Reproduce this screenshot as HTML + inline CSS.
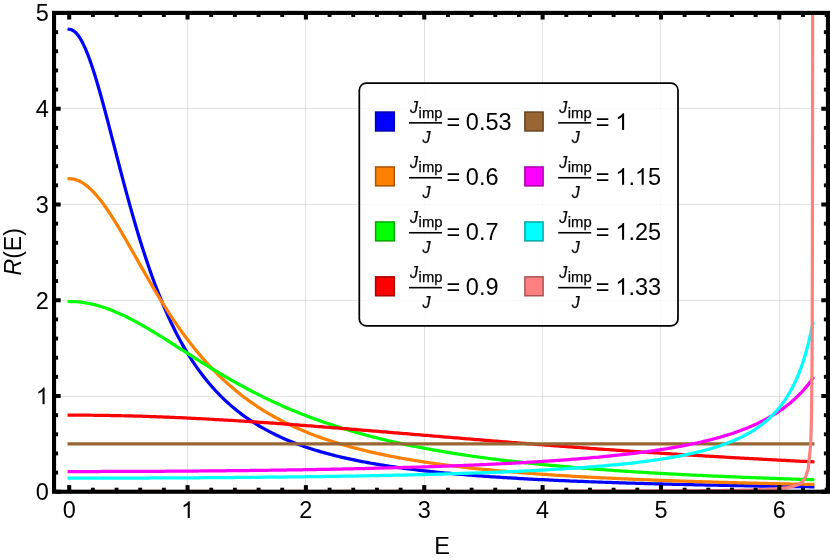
<!DOCTYPE html>
<html><head><meta charset="utf-8"><title>R(E)</title><style>html,body{margin:0;padding:0;background:#fff;}body{width:830px;height:560px;overflow:hidden;position:relative;font-family:"Liberation Sans",sans-serif;}</style></head><body>
<svg width="830" height="560" viewBox="0 0 830 560" style="position:absolute;left:0;top:0;will-change:transform">
<rect width="830" height="560" fill="#fff"/>
<g stroke="#000" stroke-opacity="0.11" stroke-width="1"><line x1="187.5" y1="12.90" x2="187.5" y2="491.75"/><line x1="305.5" y1="12.90" x2="305.5" y2="491.75"/><line x1="424.5" y1="12.90" x2="424.5" y2="491.75"/><line x1="542.5" y1="12.90" x2="542.5" y2="491.75"/><line x1="660.5" y1="12.90" x2="660.5" y2="491.75"/><line x1="779.5" y1="12.90" x2="779.5" y2="491.75"/><line x1="54.04" y1="396.5" x2="827.95" y2="396.5"/><line x1="54.04" y1="300.5" x2="827.95" y2="300.5"/><line x1="54.04" y1="204.5" x2="827.95" y2="204.5"/><line x1="54.04" y1="108.5" x2="827.95" y2="108.5"/></g>
<defs><clipPath id="cp"><rect x="54.04" y="12.90" width="777.91" height="478.85"/></clipPath></defs>
<g clip-path="url(#cp)" fill="none" stroke-width="3.25" stroke-linecap="square" stroke-linejoin="round">
<path d="M69.20 29.29 L71.52 29.70 L73.85 30.95 L76.17 33.01 L78.50 35.86 L80.82 39.48 L83.14 43.83 L85.47 48.85 L87.79 54.51 L90.11 60.76 L92.44 67.53 L94.76 74.77 L97.09 82.42 L99.41 90.43 L101.73 98.73 L104.06 107.27 L106.38 116.00 L108.70 124.87 L111.03 133.83 L113.35 142.84 L115.68 151.85 L118.00 160.84 L120.32 169.77 L122.65 178.62 L124.97 187.35 L127.29 195.95 L129.62 204.40 L131.94 212.68 L134.27 220.79 L136.59 228.71 L138.91 236.43 L141.24 243.96 L143.56 251.27 L145.89 258.38 L148.21 265.29 L150.53 271.98 L152.86 278.47 L155.18 284.75 L157.50 290.83 L159.83 296.71 L162.15 302.40 L164.48 307.90 L166.80 313.21 L169.12 318.34 L171.45 323.29 L173.77 328.08 L176.09 332.69 L178.42 337.15 L180.74 341.45 L183.07 345.61 L185.39 349.62 L187.71 353.48 L190.04 357.22 L192.36 360.82 L194.69 364.30 L197.01 367.66 L199.33 370.91 L201.66 374.04 L203.98 377.07 L206.30 379.99 L208.63 382.82 L210.95 385.54 L213.28 388.18 L215.60 390.73 L217.92 393.20 L220.25 395.58 L222.57 397.88 L224.89 400.11 L227.22 402.27 L229.54 404.36 L231.87 406.38 L234.19 408.34 L236.51 410.23 L238.84 412.07 L241.16 413.85 L243.48 415.57 L245.81 417.24 L248.13 418.86 L250.46 420.43 L252.78 421.96 L255.10 423.43 L257.43 424.87 L259.75 426.26 L262.08 427.61 L264.40 428.92 L266.72 430.20 L269.05 431.43 L271.37 432.64 L273.69 433.80 L276.02 434.94 L278.34 436.04 L280.67 437.12 L282.99 438.16 L285.31 439.18 L287.64 440.17 L289.96 441.13 L292.28 442.07 L294.61 442.98 L296.93 443.87 L299.26 444.73 L301.58 445.57 L303.90 446.39 L306.23 447.19 L308.55 447.97 L310.87 448.73 L313.20 449.47 L315.52 450.20 L317.85 450.90 L320.17 451.59 L322.49 452.26 L324.82 452.91 L327.14 453.55 L329.47 454.18 L331.79 454.79 L334.11 455.38 L336.44 455.96 L338.76 456.53 L341.08 457.08 L343.41 457.63 L345.73 458.16 L348.06 458.67 L350.38 459.18 L352.70 459.67 L355.03 460.16 L357.35 460.63 L359.67 461.09 L362.00 461.55 L364.32 461.99 L366.65 462.42 L368.97 462.85 L371.29 463.26 L373.62 463.67 L375.94 464.07 L378.26 464.46 L380.59 464.84 L382.91 465.22 L385.24 465.58 L387.56 465.94 L389.88 466.29 L392.21 466.64 L394.53 466.98 L396.86 467.31 L399.18 467.64 L401.50 467.95 L403.83 468.27 L406.15 468.57 L408.47 468.87 L410.80 469.17 L413.12 469.46 L415.45 469.74 L417.77 470.02 L420.09 470.29 L422.42 470.56 L424.74 470.83 L427.06 471.09 L429.39 471.34 L431.71 471.59 L434.04 471.83 L436.36 472.07 L438.68 472.31 L441.01 472.54 L443.33 472.77 L445.66 473.00 L447.98 473.22 L450.30 473.43 L452.63 473.64 L454.95 473.85 L457.27 474.06 L459.60 474.26 L461.92 474.46 L464.25 474.66 L466.57 474.85 L468.89 475.04 L471.22 475.22 L473.54 475.40 L475.86 475.58 L478.19 475.76 L480.51 475.94 L482.84 476.11 L485.16 476.27 L487.48 476.44 L489.81 476.60 L492.13 476.76 L494.45 476.92 L496.78 477.08 L499.10 477.23 L501.43 477.38 L503.75 477.53 L506.07 477.68 L508.40 477.82 L510.72 477.96 L513.05 478.10 L515.37 478.24 L517.69 478.38 L520.02 478.51 L522.34 478.64 L524.66 478.77 L526.99 478.90 L529.31 479.02 L531.64 479.15 L533.96 479.27 L536.28 479.39 L538.61 479.51 L540.93 479.63 L543.25 479.74 L545.58 479.86 L547.90 479.97 L550.23 480.08 L552.55 480.19 L554.87 480.30 L557.20 480.40 L559.52 480.51 L561.84 480.61 L564.17 480.71 L566.49 480.81 L568.82 480.91 L571.14 481.01 L573.46 481.11 L575.79 481.20 L578.11 481.30 L580.44 481.39 L582.76 481.48 L585.08 481.57 L587.41 481.66 L589.73 481.75 L592.05 481.83 L594.38 481.92 L596.70 482.00 L599.03 482.09 L601.35 482.17 L603.67 482.25 L606.00 482.33 L608.32 482.41 L610.64 482.49 L612.97 482.57 L615.29 482.64 L617.62 482.72 L619.94 482.79 L622.26 482.87 L624.59 482.94 L626.91 483.01 L629.24 483.08 L631.56 483.15 L633.88 483.22 L636.21 483.29 L638.53 483.36 L640.85 483.43 L643.18 483.49 L645.50 483.56 L647.83 483.62 L650.15 483.69 L652.47 483.75 L654.80 483.81 L657.12 483.87 L659.44 483.93 L661.77 483.99 L664.09 484.05 L666.42 484.11 L668.74 484.17 L671.06 484.23 L673.39 484.28 L675.71 484.34 L678.03 484.40 L680.36 484.45 L682.68 484.50 L685.01 484.56 L687.33 484.61 L689.65 484.66 L691.98 484.72 L694.30 484.77 L696.63 484.82 L698.95 484.87 L701.27 484.92 L703.60 484.97 L705.92 485.02 L708.24 485.06 L710.57 485.11 L712.89 485.16 L715.22 485.21 L717.54 485.25 L719.86 485.30 L722.19 485.34 L724.51 485.39 L726.83 485.43 L729.16 485.48 L731.48 485.52 L733.81 485.56 L736.13 485.60 L738.45 485.65 L740.78 485.69 L743.10 485.73 L745.42 485.77 L747.75 485.81 L750.07 485.85 L752.40 485.89 L754.72 485.93 L757.04 485.97 L759.37 486.01 L761.69 486.04 L764.02 486.08 L766.34 486.12 L768.66 486.16 L770.99 486.19 L773.31 486.23 L775.63 486.26 L777.96 486.30 L780.28 486.34 L782.61 486.37 L784.93 486.40 L787.25 486.44 L789.58 486.47 L791.90 486.51 L794.22 486.54 L796.55 486.57 L798.87 486.60 L801.20 486.64 L803.52 486.67 L805.84 486.70 L808.17 486.73 L810.49 486.76 L812.81 486.79" stroke="#0000ff"/>
<path d="M69.20 178.67 L71.52 178.80 L73.85 179.18 L76.17 179.82 L78.50 180.70 L80.82 181.83 L83.14 183.20 L85.47 184.81 L87.79 186.64 L90.11 188.69 L92.44 190.94 L94.76 193.40 L97.09 196.04 L99.41 198.86 L101.73 201.85 L104.06 204.99 L106.38 208.27 L108.70 211.69 L111.03 215.22 L113.35 218.85 L115.68 222.59 L118.00 226.40 L120.32 230.29 L122.65 234.23 L124.97 238.23 L127.29 242.27 L129.62 246.34 L131.94 250.43 L134.27 254.53 L136.59 258.63 L138.91 262.74 L141.24 266.83 L143.56 270.91 L145.89 274.96 L148.21 278.99 L150.53 282.98 L152.86 286.94 L155.18 290.85 L157.50 294.72 L159.83 298.53 L162.15 302.30 L164.48 306.01 L166.80 309.67 L169.12 313.27 L171.45 316.81 L173.77 320.29 L176.09 323.70 L178.42 327.06 L180.74 330.35 L183.07 333.57 L185.39 336.73 L187.71 339.83 L190.04 342.87 L192.36 345.84 L194.69 348.75 L197.01 351.59 L199.33 354.38 L201.66 357.10 L203.98 359.76 L206.30 362.37 L208.63 364.91 L210.95 367.40 L213.28 369.83 L215.60 372.20 L217.92 374.52 L220.25 376.78 L222.57 379.00 L224.89 381.16 L227.22 383.27 L229.54 385.33 L231.87 387.34 L234.19 389.30 L236.51 391.22 L238.84 393.10 L241.16 394.92 L243.48 396.71 L245.81 398.46 L248.13 400.16 L250.46 401.82 L252.78 403.45 L255.10 405.03 L257.43 406.58 L259.75 408.09 L262.08 409.57 L264.40 411.01 L266.72 412.42 L269.05 413.80 L271.37 415.15 L273.69 416.46 L276.02 417.75 L278.34 419.00 L280.67 420.23 L282.99 421.43 L285.31 422.60 L287.64 423.75 L289.96 424.87 L292.28 425.96 L294.61 427.03 L296.93 428.08 L299.26 429.10 L301.58 430.10 L303.90 431.08 L306.23 432.04 L308.55 432.98 L310.87 433.89 L313.20 434.79 L315.52 435.67 L317.85 436.53 L320.17 437.37 L322.49 438.19 L324.82 439.00 L327.14 439.79 L329.47 440.56 L331.79 441.32 L334.11 442.06 L336.44 442.79 L338.76 443.50 L341.08 444.19 L343.41 444.88 L345.73 445.54 L348.06 446.20 L350.38 446.84 L352.70 447.47 L355.03 448.09 L357.35 448.69 L359.67 449.29 L362.00 449.87 L364.32 450.44 L366.65 451.00 L368.97 451.55 L371.29 452.08 L373.62 452.61 L375.94 453.13 L378.26 453.64 L380.59 454.14 L382.91 454.63 L385.24 455.11 L387.56 455.58 L389.88 456.04 L392.21 456.49 L394.53 456.94 L396.86 457.38 L399.18 457.81 L401.50 458.23 L403.83 458.65 L406.15 459.05 L408.47 459.45 L410.80 459.85 L413.12 460.23 L415.45 460.61 L417.77 460.99 L420.09 461.35 L422.42 461.71 L424.74 462.07 L427.06 462.42 L429.39 462.76 L431.71 463.09 L434.04 463.43 L436.36 463.75 L438.68 464.07 L441.01 464.39 L443.33 464.70 L445.66 465.00 L447.98 465.30 L450.30 465.59 L452.63 465.88 L454.95 466.17 L457.27 466.45 L459.60 466.73 L461.92 467.00 L464.25 467.27 L466.57 467.53 L468.89 467.79 L471.22 468.04 L473.54 468.30 L475.86 468.54 L478.19 468.79 L480.51 469.03 L482.84 469.26 L485.16 469.50 L487.48 469.72 L489.81 469.95 L492.13 470.17 L494.45 470.39 L496.78 470.61 L499.10 470.82 L501.43 471.03 L503.75 471.24 L506.07 471.44 L508.40 471.64 L510.72 471.84 L513.05 472.03 L515.37 472.23 L517.69 472.41 L520.02 472.60 L522.34 472.79 L524.66 472.97 L526.99 473.15 L529.31 473.32 L531.64 473.50 L533.96 473.67 L536.28 473.84 L538.61 474.00 L540.93 474.17 L543.25 474.33 L545.58 474.49 L547.90 474.65 L550.23 474.81 L552.55 474.96 L554.87 475.11 L557.20 475.26 L559.52 475.41 L561.84 475.55 L564.17 475.70 L566.49 475.84 L568.82 475.98 L571.14 476.12 L573.46 476.26 L575.79 476.39 L578.11 476.52 L580.44 476.65 L582.76 476.78 L585.08 476.91 L587.41 477.04 L589.73 477.16 L592.05 477.29 L594.38 477.41 L596.70 477.53 L599.03 477.65 L601.35 477.77 L603.67 477.88 L606.00 478.00 L608.32 478.11 L610.64 478.22 L612.97 478.33 L615.29 478.44 L617.62 478.55 L619.94 478.66 L622.26 478.76 L624.59 478.86 L626.91 478.97 L629.24 479.07 L631.56 479.17 L633.88 479.27 L636.21 479.37 L638.53 479.46 L640.85 479.56 L643.18 479.65 L645.50 479.75 L647.83 479.84 L650.15 479.93 L652.47 480.02 L654.80 480.11 L657.12 480.20 L659.44 480.29 L661.77 480.37 L664.09 480.46 L666.42 480.54 L668.74 480.63 L671.06 480.71 L673.39 480.79 L675.71 480.87 L678.03 480.95 L680.36 481.03 L682.68 481.11 L685.01 481.19 L687.33 481.26 L689.65 481.34 L691.98 481.42 L694.30 481.49 L696.63 481.56 L698.95 481.64 L701.27 481.71 L703.60 481.78 L705.92 481.85 L708.24 481.92 L710.57 481.99 L712.89 482.06 L715.22 482.12 L717.54 482.19 L719.86 482.26 L722.19 482.32 L724.51 482.39 L726.83 482.45 L729.16 482.51 L731.48 482.58 L733.81 482.64 L736.13 482.70 L738.45 482.76 L740.78 482.82 L743.10 482.88 L745.42 482.94 L747.75 483.00 L750.07 483.06 L752.40 483.11 L754.72 483.17 L757.04 483.23 L759.37 483.28 L761.69 483.34 L764.02 483.39 L766.34 483.45 L768.66 483.50 L770.99 483.55 L773.31 483.61 L775.63 483.66 L777.96 483.71 L780.28 483.76 L782.61 483.81 L784.93 483.86 L787.25 483.91 L789.58 483.96 L791.90 484.01 L794.22 484.06 L796.55 484.11 L798.87 484.15 L801.20 484.20 L803.52 484.25 L805.84 484.29 L808.17 484.34 L810.49 484.38 L812.81 484.43" stroke="#ff8000"/>
<path d="M69.20 301.50 L71.52 301.53 L73.85 301.61 L76.17 301.75 L78.50 301.94 L80.82 302.19 L83.14 302.49 L85.47 302.84 L87.79 303.25 L90.11 303.70 L92.44 304.21 L94.76 304.77 L97.09 305.38 L99.41 306.04 L101.73 306.74 L104.06 307.49 L106.38 308.29 L108.70 309.13 L111.03 310.01 L113.35 310.93 L115.68 311.89 L118.00 312.90 L120.32 313.93 L122.65 315.01 L124.97 316.12 L127.29 317.26 L129.62 318.43 L131.94 319.63 L134.27 320.86 L136.59 322.11 L138.91 323.39 L141.24 324.69 L143.56 326.02 L145.89 327.36 L148.21 328.72 L150.53 330.11 L152.86 331.50 L155.18 332.91 L157.50 334.34 L159.83 335.77 L162.15 337.22 L164.48 338.67 L166.80 340.14 L169.12 341.60 L171.45 343.08 L173.77 344.56 L176.09 346.04 L178.42 347.52 L180.74 349.01 L183.07 350.49 L185.39 351.98 L187.71 353.46 L190.04 354.94 L192.36 356.42 L194.69 357.89 L197.01 359.35 L199.33 360.81 L201.66 362.27 L203.98 363.72 L206.30 365.16 L208.63 366.59 L210.95 368.01 L213.28 369.42 L215.60 370.83 L217.92 372.22 L220.25 373.61 L222.57 374.98 L224.89 376.34 L227.22 377.69 L229.54 379.03 L231.87 380.35 L234.19 381.66 L236.51 382.96 L238.84 384.25 L241.16 385.53 L243.48 386.79 L245.81 388.03 L248.13 389.27 L250.46 390.49 L252.78 391.70 L255.10 392.89 L257.43 394.07 L259.75 395.24 L262.08 396.39 L264.40 397.53 L266.72 398.66 L269.05 399.77 L271.37 400.87 L273.69 401.95 L276.02 403.02 L278.34 404.08 L280.67 405.12 L282.99 406.15 L285.31 407.17 L287.64 408.17 L289.96 409.16 L292.28 410.14 L294.61 411.11 L296.93 412.06 L299.26 413.00 L301.58 413.92 L303.90 414.84 L306.23 415.74 L308.55 416.63 L310.87 417.50 L313.20 418.37 L315.52 419.22 L317.85 420.06 L320.17 420.89 L322.49 421.71 L324.82 422.51 L327.14 423.31 L329.47 424.09 L331.79 424.87 L334.11 425.63 L336.44 426.38 L338.76 427.12 L341.08 427.85 L343.41 428.57 L345.73 429.28 L348.06 429.98 L350.38 430.67 L352.70 431.35 L355.03 432.02 L357.35 432.69 L359.67 433.34 L362.00 433.98 L364.32 434.61 L366.65 435.24 L368.97 435.86 L371.29 436.46 L373.62 437.06 L375.94 437.65 L378.26 438.24 L380.59 438.81 L382.91 439.38 L385.24 439.94 L387.56 440.49 L389.88 441.03 L392.21 441.56 L394.53 442.09 L396.86 442.61 L399.18 443.13 L401.50 443.63 L403.83 444.13 L406.15 444.62 L408.47 445.11 L410.80 445.59 L413.12 446.06 L415.45 446.53 L417.77 446.99 L420.09 447.44 L422.42 447.89 L424.74 448.33 L427.06 448.76 L429.39 449.19 L431.71 449.62 L434.04 450.03 L436.36 450.45 L438.68 450.85 L441.01 451.25 L443.33 451.65 L445.66 452.04 L447.98 452.42 L450.30 452.81 L452.63 453.18 L454.95 453.55 L457.27 453.92 L459.60 454.28 L461.92 454.63 L464.25 454.98 L466.57 455.33 L468.89 455.67 L471.22 456.01 L473.54 456.34 L475.86 456.67 L478.19 457.00 L480.51 457.32 L482.84 457.63 L485.16 457.95 L487.48 458.26 L489.81 458.56 L492.13 458.86 L494.45 459.16 L496.78 459.45 L499.10 459.74 L501.43 460.03 L503.75 460.31 L506.07 460.59 L508.40 460.86 L510.72 461.14 L513.05 461.41 L515.37 461.67 L517.69 461.93 L520.02 462.19 L522.34 462.45 L524.66 462.70 L526.99 462.95 L529.31 463.20 L531.64 463.44 L533.96 463.68 L536.28 463.92 L538.61 464.15 L540.93 464.39 L543.25 464.62 L545.58 464.84 L547.90 465.07 L550.23 465.29 L552.55 465.51 L554.87 465.72 L557.20 465.94 L559.52 466.15 L561.84 466.36 L564.17 466.56 L566.49 466.77 L568.82 466.97 L571.14 467.17 L573.46 467.37 L575.79 467.56 L578.11 467.75 L580.44 467.94 L582.76 468.13 L585.08 468.32 L587.41 468.50 L589.73 468.68 L592.05 468.86 L594.38 469.04 L596.70 469.22 L599.03 469.39 L601.35 469.56 L603.67 469.73 L606.00 469.90 L608.32 470.07 L610.64 470.23 L612.97 470.40 L615.29 470.56 L617.62 470.72 L619.94 470.87 L622.26 471.03 L624.59 471.18 L626.91 471.34 L629.24 471.49 L631.56 471.64 L633.88 471.79 L636.21 471.93 L638.53 472.08 L640.85 472.22 L643.18 472.36 L645.50 472.50 L647.83 472.64 L650.15 472.78 L652.47 472.91 L654.80 473.05 L657.12 473.18 L659.44 473.31 L661.77 473.44 L664.09 473.57 L666.42 473.70 L668.74 473.83 L671.06 473.95 L673.39 474.08 L675.71 474.20 L678.03 474.32 L680.36 474.44 L682.68 474.56 L685.01 474.68 L687.33 474.79 L689.65 474.91 L691.98 475.02 L694.30 475.14 L696.63 475.25 L698.95 475.36 L701.27 475.47 L703.60 475.58 L705.92 475.69 L708.24 475.79 L710.57 475.90 L712.89 476.01 L715.22 476.11 L717.54 476.21 L719.86 476.31 L722.19 476.41 L724.51 476.51 L726.83 476.61 L729.16 476.71 L731.48 476.81 L733.81 476.90 L736.13 477.00 L738.45 477.09 L740.78 477.19 L743.10 477.28 L745.42 477.37 L747.75 477.46 L750.07 477.55 L752.40 477.64 L754.72 477.73 L757.04 477.82 L759.37 477.91 L761.69 477.99 L764.02 478.08 L766.34 478.16 L768.66 478.24 L770.99 478.33 L773.31 478.41 L775.63 478.49 L777.96 478.57 L780.28 478.65 L782.61 478.73 L784.93 478.81 L787.25 478.89 L789.58 478.97 L791.90 479.04 L794.22 479.12 L796.55 479.19 L798.87 479.27 L801.20 479.34 L803.52 479.42 L805.84 479.49 L808.17 479.56 L810.49 479.63 L812.81 479.70" stroke="#00ff00"/>
<path d="M69.20 415.14 L71.52 415.14 L73.85 415.14 L76.17 415.15 L78.50 415.15 L80.82 415.17 L83.14 415.18 L85.47 415.19 L87.79 415.21 L90.11 415.23 L92.44 415.25 L94.76 415.28 L97.09 415.30 L99.41 415.33 L101.73 415.36 L104.06 415.40 L106.38 415.43 L108.70 415.47 L111.03 415.51 L113.35 415.56 L115.68 415.60 L118.00 415.65 L120.32 415.70 L122.65 415.75 L124.97 415.80 L127.29 415.86 L129.62 415.92 L131.94 415.98 L134.27 416.04 L136.59 416.11 L138.91 416.17 L141.24 416.24 L143.56 416.31 L145.89 416.39 L148.21 416.46 L150.53 416.54 L152.86 416.62 L155.18 416.70 L157.50 416.79 L159.83 416.87 L162.15 416.96 L164.48 417.05 L166.80 417.14 L169.12 417.24 L171.45 417.33 L173.77 417.43 L176.09 417.53 L178.42 417.63 L180.74 417.74 L183.07 417.84 L185.39 417.95 L187.71 418.06 L190.04 418.17 L192.36 418.28 L194.69 418.40 L197.01 418.51 L199.33 418.63 L201.66 418.75 L203.98 418.87 L206.30 419.00 L208.63 419.12 L210.95 419.25 L213.28 419.38 L215.60 419.51 L217.92 419.64 L220.25 419.77 L222.57 419.91 L224.89 420.04 L227.22 420.18 L229.54 420.32 L231.87 420.46 L234.19 420.60 L236.51 420.75 L238.84 420.89 L241.16 421.04 L243.48 421.19 L245.81 421.34 L248.13 421.49 L250.46 421.64 L252.78 421.79 L255.10 421.95 L257.43 422.10 L259.75 422.26 L262.08 422.42 L264.40 422.58 L266.72 422.74 L269.05 422.90 L271.37 423.06 L273.69 423.23 L276.02 423.39 L278.34 423.56 L280.67 423.72 L282.99 423.89 L285.31 424.06 L287.64 424.23 L289.96 424.40 L292.28 424.57 L294.61 424.75 L296.93 424.92 L299.26 425.09 L301.58 425.27 L303.90 425.45 L306.23 425.62 L308.55 425.80 L310.87 425.98 L313.20 426.16 L315.52 426.34 L317.85 426.52 L320.17 426.70 L322.49 426.88 L324.82 427.07 L327.14 427.25 L329.47 427.43 L331.79 427.62 L334.11 427.80 L336.44 427.99 L338.76 428.18 L341.08 428.36 L343.41 428.55 L345.73 428.74 L348.06 428.93 L350.38 429.12 L352.70 429.30 L355.03 429.49 L357.35 429.68 L359.67 429.87 L362.00 430.06 L364.32 430.26 L366.65 430.45 L368.97 430.64 L371.29 430.83 L373.62 431.02 L375.94 431.21 L378.26 431.41 L380.59 431.60 L382.91 431.79 L385.24 431.99 L387.56 432.18 L389.88 432.37 L392.21 432.57 L394.53 432.76 L396.86 432.95 L399.18 433.15 L401.50 433.34 L403.83 433.54 L406.15 433.73 L408.47 433.93 L410.80 434.12 L413.12 434.31 L415.45 434.51 L417.77 434.70 L420.09 434.90 L422.42 435.09 L424.74 435.28 L427.06 435.48 L429.39 435.67 L431.71 435.87 L434.04 436.06 L436.36 436.25 L438.68 436.45 L441.01 436.64 L443.33 436.83 L445.66 437.03 L447.98 437.22 L450.30 437.41 L452.63 437.61 L454.95 437.80 L457.27 437.99 L459.60 438.18 L461.92 438.37 L464.25 438.57 L466.57 438.76 L468.89 438.95 L471.22 439.14 L473.54 439.33 L475.86 439.52 L478.19 439.71 L480.51 439.90 L482.84 440.09 L485.16 440.28 L487.48 440.47 L489.81 440.65 L492.13 440.84 L494.45 441.03 L496.78 441.22 L499.10 441.40 L501.43 441.59 L503.75 441.78 L506.07 441.96 L508.40 442.15 L510.72 442.33 L513.05 442.52 L515.37 442.70 L517.69 442.88 L520.02 443.07 L522.34 443.25 L524.66 443.43 L526.99 443.61 L529.31 443.79 L531.64 443.98 L533.96 444.16 L536.28 444.34 L538.61 444.52 L540.93 444.69 L543.25 444.87 L545.58 445.05 L547.90 445.23 L550.23 445.41 L552.55 445.58 L554.87 445.76 L557.20 445.93 L559.52 446.11 L561.84 446.28 L564.17 446.46 L566.49 446.63 L568.82 446.81 L571.14 446.98 L573.46 447.15 L575.79 447.32 L578.11 447.49 L580.44 447.66 L582.76 447.83 L585.08 448.00 L587.41 448.17 L589.73 448.34 L592.05 448.51 L594.38 448.67 L596.70 448.84 L599.03 449.01 L601.35 449.17 L603.67 449.34 L606.00 449.50 L608.32 449.67 L610.64 449.83 L612.97 449.99 L615.29 450.15 L617.62 450.31 L619.94 450.48 L622.26 450.64 L624.59 450.80 L626.91 450.95 L629.24 451.11 L631.56 451.27 L633.88 451.43 L636.21 451.59 L638.53 451.74 L640.85 451.90 L643.18 452.05 L645.50 452.21 L647.83 452.36 L650.15 452.52 L652.47 452.67 L654.80 452.82 L657.12 452.97 L659.44 453.12 L661.77 453.27 L664.09 453.42 L666.42 453.57 L668.74 453.72 L671.06 453.87 L673.39 454.02 L675.71 454.16 L678.03 454.31 L680.36 454.46 L682.68 454.60 L685.01 454.75 L687.33 454.89 L689.65 455.03 L691.98 455.18 L694.30 455.32 L696.63 455.46 L698.95 455.60 L701.27 455.74 L703.60 455.88 L705.92 456.02 L708.24 456.16 L710.57 456.30 L712.89 456.44 L715.22 456.57 L717.54 456.71 L719.86 456.85 L722.19 456.98 L724.51 457.12 L726.83 457.25 L729.16 457.39 L731.48 457.52 L733.81 457.65 L736.13 457.78 L738.45 457.92 L740.78 458.05 L743.10 458.18 L745.42 458.31 L747.75 458.44 L750.07 458.56 L752.40 458.69 L754.72 458.82 L757.04 458.95 L759.37 459.07 L761.69 459.20 L764.02 459.32 L766.34 459.45 L768.66 459.57 L770.99 459.70 L773.31 459.82 L775.63 459.94 L777.96 460.07 L780.28 460.19 L782.61 460.31 L784.93 460.43 L787.25 460.55 L789.58 460.67 L791.90 460.79 L794.22 460.91 L796.55 461.02 L798.87 461.14 L801.20 461.26 L803.52 461.37 L805.84 461.49 L808.17 461.60 L810.49 461.72 L812.81 461.83" stroke="#ff0000"/>
<path d="M69.20 443.88 L812.81 443.88" stroke="#996633"/>
<path d="M69.20 471.52 L71.52 471.52 L73.85 471.52 L76.17 471.52 L78.50 471.52 L80.82 471.52 L83.14 471.52 L85.47 471.52 L87.79 471.51 L90.11 471.51 L92.44 471.51 L94.76 471.50 L97.09 471.50 L99.41 471.50 L101.73 471.49 L104.06 471.49 L106.38 471.48 L108.70 471.48 L111.03 471.47 L113.35 471.46 L115.68 471.46 L118.00 471.45 L120.32 471.44 L122.65 471.44 L124.97 471.43 L127.29 471.42 L129.62 471.41 L131.94 471.40 L134.27 471.40 L136.59 471.39 L138.91 471.38 L141.24 471.37 L143.56 471.36 L145.89 471.35 L148.21 471.33 L150.53 471.32 L152.86 471.31 L155.18 471.30 L157.50 471.29 L159.83 471.27 L162.15 471.26 L164.48 471.25 L166.80 471.23 L169.12 471.22 L171.45 471.20 L173.77 471.19 L176.09 471.17 L178.42 471.16 L180.74 471.14 L183.07 471.13 L185.39 471.11 L187.71 471.09 L190.04 471.07 L192.36 471.06 L194.69 471.04 L197.01 471.02 L199.33 471.00 L201.66 470.98 L203.98 470.96 L206.30 470.94 L208.63 470.92 L210.95 470.90 L213.28 470.88 L215.60 470.86 L217.92 470.84 L220.25 470.81 L222.57 470.79 L224.89 470.77 L227.22 470.74 L229.54 470.72 L231.87 470.70 L234.19 470.67 L236.51 470.65 L238.84 470.62 L241.16 470.59 L243.48 470.57 L245.81 470.54 L248.13 470.51 L250.46 470.49 L252.78 470.46 L255.10 470.43 L257.43 470.40 L259.75 470.37 L262.08 470.34 L264.40 470.31 L266.72 470.28 L269.05 470.25 L271.37 470.22 L273.69 470.18 L276.02 470.15 L278.34 470.12 L280.67 470.08 L282.99 470.05 L285.31 470.02 L287.64 469.98 L289.96 469.94 L292.28 469.91 L294.61 469.87 L296.93 469.83 L299.26 469.80 L301.58 469.76 L303.90 469.72 L306.23 469.68 L308.55 469.64 L310.87 469.60 L313.20 469.56 L315.52 469.52 L317.85 469.48 L320.17 469.44 L322.49 469.39 L324.82 469.35 L327.14 469.30 L329.47 469.26 L331.79 469.22 L334.11 469.17 L336.44 469.12 L338.76 469.08 L341.08 469.03 L343.41 468.98 L345.73 468.93 L348.06 468.88 L350.38 468.83 L352.70 468.78 L355.03 468.73 L357.35 468.68 L359.67 468.62 L362.00 468.57 L364.32 468.52 L366.65 468.46 L368.97 468.41 L371.29 468.35 L373.62 468.29 L375.94 468.24 L378.26 468.18 L380.59 468.12 L382.91 468.06 L385.24 468.00 L387.56 467.94 L389.88 467.88 L392.21 467.81 L394.53 467.75 L396.86 467.69 L399.18 467.62 L401.50 467.55 L403.83 467.49 L406.15 467.42 L408.47 467.35 L410.80 467.28 L413.12 467.21 L415.45 467.14 L417.77 467.07 L420.09 467.00 L422.42 466.92 L424.74 466.85 L427.06 466.77 L429.39 466.69 L431.71 466.62 L434.04 466.54 L436.36 466.46 L438.68 466.38 L441.01 466.30 L443.33 466.21 L445.66 466.13 L447.98 466.04 L450.30 465.96 L452.63 465.87 L454.95 465.78 L457.27 465.69 L459.60 465.60 L461.92 465.51 L464.25 465.42 L466.57 465.32 L468.89 465.23 L471.22 465.13 L473.54 465.03 L475.86 464.94 L478.19 464.83 L480.51 464.73 L482.84 464.63 L485.16 464.53 L487.48 464.42 L489.81 464.31 L492.13 464.20 L494.45 464.09 L496.78 463.98 L499.10 463.87 L501.43 463.75 L503.75 463.64 L506.07 463.52 L508.40 463.40 L510.72 463.28 L513.05 463.15 L515.37 463.03 L517.69 462.90 L520.02 462.77 L522.34 462.64 L524.66 462.51 L526.99 462.38 L529.31 462.24 L531.64 462.11 L533.96 461.97 L536.28 461.82 L538.61 461.68 L540.93 461.53 L543.25 461.39 L545.58 461.24 L547.90 461.08 L550.23 460.93 L552.55 460.77 L554.87 460.61 L557.20 460.45 L559.52 460.29 L561.84 460.12 L564.17 459.95 L566.49 459.78 L568.82 459.60 L571.14 459.42 L573.46 459.24 L575.79 459.06 L578.11 458.87 L580.44 458.68 L582.76 458.49 L585.08 458.30 L587.41 458.10 L589.73 457.90 L592.05 457.69 L594.38 457.48 L596.70 457.27 L599.03 457.05 L601.35 456.83 L603.67 456.61 L606.00 456.38 L608.32 456.15 L610.64 455.92 L612.97 455.68 L615.29 455.43 L617.62 455.19 L619.94 454.93 L622.26 454.68 L624.59 454.41 L626.91 454.15 L629.24 453.88 L631.56 453.60 L633.88 453.32 L636.21 453.03 L638.53 452.74 L640.85 452.44 L643.18 452.13 L645.50 451.82 L647.83 451.51 L650.15 451.18 L652.47 450.85 L654.80 450.52 L657.12 450.17 L659.44 449.82 L661.77 449.46 L664.09 449.10 L666.42 448.73 L668.74 448.34 L671.06 447.95 L673.39 447.56 L675.71 447.15 L678.03 446.73 L680.36 446.31 L682.68 445.87 L685.01 445.42 L687.33 444.97 L689.65 444.50 L691.98 444.02 L694.30 443.53 L696.63 443.03 L698.95 442.52 L701.27 441.99 L703.60 441.45 L705.92 440.89 L708.24 440.32 L710.57 439.74 L712.89 439.14 L715.22 438.52 L717.54 437.89 L719.86 437.24 L722.19 436.57 L724.51 435.88 L726.83 435.17 L729.16 434.44 L731.48 433.69 L733.81 432.92 L736.13 432.12 L738.45 431.30 L740.78 430.45 L743.10 429.57 L745.42 428.67 L747.75 427.74 L750.07 426.77 L752.40 425.77 L754.72 424.74 L757.04 423.67 L759.37 422.56 L761.69 421.41 L764.02 420.22 L766.34 418.99 L768.66 417.70 L770.99 416.37 L773.31 414.98 L775.63 413.53 L777.96 412.03 L780.28 410.45 L782.61 408.82 L784.93 407.10 L787.25 405.31 L789.58 403.44 L791.90 401.47 L794.22 399.42 L796.55 397.25 L798.87 394.98 L801.20 392.58 L803.52 390.06 L805.84 387.40 L808.17 384.58 L810.49 381.60 L812.81 378.43" stroke="#ff00ff"/>
<path d="M69.20 478.14 L71.52 478.14 L73.85 478.14 L76.17 478.14 L78.50 478.14 L80.82 478.14 L83.14 478.14 L85.47 478.13 L87.79 478.13 L90.11 478.13 L92.44 478.13 L94.76 478.13 L97.09 478.12 L99.41 478.12 L101.73 478.12 L104.06 478.11 L106.38 478.11 L108.70 478.11 L111.03 478.10 L113.35 478.10 L115.68 478.09 L118.00 478.09 L120.32 478.08 L122.65 478.08 L124.97 478.07 L127.29 478.06 L129.62 478.06 L131.94 478.05 L134.27 478.04 L136.59 478.04 L138.91 478.03 L141.24 478.02 L143.56 478.01 L145.89 478.01 L148.21 478.00 L150.53 477.99 L152.86 477.98 L155.18 477.97 L157.50 477.96 L159.83 477.95 L162.15 477.94 L164.48 477.93 L166.80 477.92 L169.12 477.91 L171.45 477.90 L173.77 477.89 L176.09 477.88 L178.42 477.87 L180.74 477.85 L183.07 477.84 L185.39 477.83 L187.71 477.82 L190.04 477.80 L192.36 477.79 L194.69 477.77 L197.01 477.76 L199.33 477.75 L201.66 477.73 L203.98 477.72 L206.30 477.70 L208.63 477.69 L210.95 477.67 L213.28 477.65 L215.60 477.64 L217.92 477.62 L220.25 477.60 L222.57 477.59 L224.89 477.57 L227.22 477.55 L229.54 477.53 L231.87 477.51 L234.19 477.50 L236.51 477.48 L238.84 477.46 L241.16 477.44 L243.48 477.42 L245.81 477.40 L248.13 477.38 L250.46 477.35 L252.78 477.33 L255.10 477.31 L257.43 477.29 L259.75 477.27 L262.08 477.24 L264.40 477.22 L266.72 477.20 L269.05 477.17 L271.37 477.15 L273.69 477.12 L276.02 477.10 L278.34 477.07 L280.67 477.05 L282.99 477.02 L285.31 476.99 L287.64 476.97 L289.96 476.94 L292.28 476.91 L294.61 476.89 L296.93 476.86 L299.26 476.83 L301.58 476.80 L303.90 476.77 L306.23 476.74 L308.55 476.71 L310.87 476.68 L313.20 476.65 L315.52 476.61 L317.85 476.58 L320.17 476.55 L322.49 476.52 L324.82 476.48 L327.14 476.45 L329.47 476.41 L331.79 476.38 L334.11 476.34 L336.44 476.31 L338.76 476.27 L341.08 476.23 L343.41 476.20 L345.73 476.16 L348.06 476.12 L350.38 476.08 L352.70 476.04 L355.03 476.00 L357.35 475.96 L359.67 475.92 L362.00 475.88 L364.32 475.84 L366.65 475.79 L368.97 475.75 L371.29 475.71 L373.62 475.66 L375.94 475.62 L378.26 475.57 L380.59 475.53 L382.91 475.48 L385.24 475.43 L387.56 475.38 L389.88 475.33 L392.21 475.28 L394.53 475.23 L396.86 475.18 L399.18 475.13 L401.50 475.08 L403.83 475.03 L406.15 474.97 L408.47 474.92 L410.80 474.87 L413.12 474.81 L415.45 474.75 L417.77 474.70 L420.09 474.64 L422.42 474.58 L424.74 474.52 L427.06 474.46 L429.39 474.40 L431.71 474.34 L434.04 474.27 L436.36 474.21 L438.68 474.15 L441.01 474.08 L443.33 474.01 L445.66 473.95 L447.98 473.88 L450.30 473.81 L452.63 473.74 L454.95 473.67 L457.27 473.60 L459.60 473.52 L461.92 473.45 L464.25 473.37 L466.57 473.30 L468.89 473.22 L471.22 473.14 L473.54 473.06 L475.86 472.98 L478.19 472.90 L480.51 472.82 L482.84 472.73 L485.16 472.65 L487.48 472.56 L489.81 472.47 L492.13 472.38 L494.45 472.29 L496.78 472.20 L499.10 472.11 L501.43 472.01 L503.75 471.91 L506.07 471.82 L508.40 471.72 L510.72 471.62 L513.05 471.51 L515.37 471.41 L517.69 471.30 L520.02 471.20 L522.34 471.09 L524.66 470.98 L526.99 470.86 L529.31 470.75 L531.64 470.63 L533.96 470.52 L536.28 470.40 L538.61 470.27 L540.93 470.15 L543.25 470.02 L545.58 469.90 L547.90 469.77 L550.23 469.63 L552.55 469.50 L554.87 469.36 L557.20 469.22 L559.52 469.08 L561.84 468.94 L564.17 468.79 L566.49 468.64 L568.82 468.49 L571.14 468.33 L573.46 468.18 L575.79 468.02 L578.11 467.85 L580.44 467.69 L582.76 467.52 L585.08 467.34 L587.41 467.17 L589.73 466.99 L592.05 466.80 L594.38 466.62 L596.70 466.43 L599.03 466.23 L601.35 466.04 L603.67 465.83 L606.00 465.63 L608.32 465.42 L610.64 465.20 L612.97 464.99 L615.29 464.76 L617.62 464.53 L619.94 464.30 L622.26 464.06 L624.59 463.82 L626.91 463.57 L629.24 463.32 L631.56 463.06 L633.88 462.79 L636.21 462.52 L638.53 462.24 L640.85 461.96 L643.18 461.66 L645.50 461.37 L647.83 461.06 L650.15 460.75 L652.47 460.43 L654.80 460.10 L657.12 459.76 L659.44 459.41 L661.77 459.06 L664.09 458.69 L666.42 458.32 L668.74 457.94 L671.06 457.54 L673.39 457.14 L675.71 456.72 L678.03 456.29 L680.36 455.85 L682.68 455.40 L685.01 454.93 L687.33 454.45 L689.65 453.95 L691.98 453.44 L694.30 452.92 L696.63 452.37 L698.95 451.81 L701.27 451.23 L703.60 450.63 L705.92 450.01 L708.24 449.37 L710.57 448.71 L712.89 448.02 L715.22 447.31 L717.54 446.58 L719.86 445.81 L722.19 445.02 L724.51 444.19 L726.83 443.33 L729.16 442.44 L731.48 441.51 L733.81 440.54 L736.13 439.53 L738.45 438.47 L740.78 437.37 L743.10 436.22 L745.42 435.01 L747.75 433.75 L750.07 432.42 L752.40 431.02 L754.72 429.56 L757.04 428.01 L759.37 426.38 L761.69 424.66 L764.02 422.84 L766.34 420.91 L768.66 418.86 L770.99 416.69 L773.31 414.37 L775.63 411.90 L777.96 409.25 L780.28 406.41 L782.61 403.36 L784.93 400.08 L787.25 396.52 L789.58 392.67 L791.90 388.48 L794.22 383.91 L796.55 378.89 L798.87 373.36 L801.20 367.25 L803.52 360.44 L805.84 352.83 L808.17 344.24 L810.49 334.50 L812.81 323.34" stroke="#00ffff"/>
<path d="M69.20 491.47 L71.52 491.47 L73.85 491.47 L76.17 491.47 L78.50 491.47 L80.82 491.47 L83.14 491.47 L85.47 491.47 L87.79 491.47 L90.11 491.47 L92.44 491.47 L94.76 491.47 L97.09 491.47 L99.41 491.47 L101.73 491.47 L104.06 491.47 L106.38 491.47 L108.70 491.47 L111.03 491.47 L113.35 491.47 L115.68 491.47 L118.00 491.47 L120.32 491.47 L122.65 491.47 L124.97 491.47 L127.29 491.47 L129.62 491.46 L131.94 491.46 L134.27 491.46 L136.59 491.46 L138.91 491.46 L141.24 491.46 L143.56 491.46 L145.89 491.46 L148.21 491.46 L150.53 491.46 L152.86 491.46 L155.18 491.46 L157.50 491.46 L159.83 491.46 L162.15 491.46 L164.48 491.46 L166.80 491.46 L169.12 491.46 L171.45 491.46 L173.77 491.46 L176.09 491.46 L178.42 491.46 L180.74 491.46 L183.07 491.46 L185.39 491.46 L187.71 491.46 L190.04 491.46 L192.36 491.46 L194.69 491.46 L197.01 491.46 L199.33 491.46 L201.66 491.46 L203.98 491.46 L206.30 491.46 L208.63 491.46 L210.95 491.46 L213.28 491.46 L215.60 491.46 L217.92 491.45 L220.25 491.45 L222.57 491.45 L224.89 491.45 L227.22 491.45 L229.54 491.45 L231.87 491.45 L234.19 491.45 L236.51 491.45 L238.84 491.45 L241.16 491.45 L243.48 491.45 L245.81 491.45 L248.13 491.45 L250.46 491.45 L252.78 491.45 L255.10 491.45 L257.43 491.45 L259.75 491.45 L262.08 491.45 L264.40 491.45 L266.72 491.45 L269.05 491.44 L271.37 491.44 L273.69 491.44 L276.02 491.44 L278.34 491.44 L280.67 491.44 L282.99 491.44 L285.31 491.44 L287.64 491.44 L289.96 491.44 L292.28 491.44 L294.61 491.44 L296.93 491.44 L299.26 491.44 L301.58 491.44 L303.90 491.44 L306.23 491.43 L308.55 491.43 L310.87 491.43 L313.20 491.43 L315.52 491.43 L317.85 491.43 L320.17 491.43 L322.49 491.43 L324.82 491.43 L327.14 491.43 L329.47 491.43 L331.79 491.43 L334.11 491.43 L336.44 491.42 L338.76 491.42 L341.08 491.42 L343.41 491.42 L345.73 491.42 L348.06 491.42 L350.38 491.42 L352.70 491.42 L355.03 491.42 L357.35 491.42 L359.67 491.42 L362.00 491.41 L364.32 491.41 L366.65 491.41 L368.97 491.41 L371.29 491.41 L373.62 491.41 L375.94 491.41 L378.26 491.41 L380.59 491.41 L382.91 491.41 L385.24 491.40 L387.56 491.40 L389.88 491.40 L392.21 491.40 L394.53 491.40 L396.86 491.40 L399.18 491.40 L401.50 491.40 L403.83 491.39 L406.15 491.39 L408.47 491.39 L410.80 491.39 L413.12 491.39 L415.45 491.39 L417.77 491.39 L420.09 491.39 L422.42 491.38 L424.74 491.38 L427.06 491.38 L429.39 491.38 L431.71 491.38 L434.04 491.38 L436.36 491.38 L438.68 491.37 L441.01 491.37 L443.33 491.37 L445.66 491.37 L447.98 491.37 L450.30 491.37 L452.63 491.36 L454.95 491.36 L457.27 491.36 L459.60 491.36 L461.92 491.36 L464.25 491.36 L466.57 491.35 L468.89 491.35 L471.22 491.35 L473.54 491.35 L475.86 491.35 L478.19 491.34 L480.51 491.34 L482.84 491.34 L485.16 491.34 L487.48 491.34 L489.81 491.33 L492.13 491.33 L494.45 491.33 L496.78 491.33 L499.10 491.32 L501.43 491.32 L503.75 491.32 L506.07 491.32 L508.40 491.32 L510.72 491.31 L513.05 491.31 L515.37 491.31 L517.69 491.30 L520.02 491.30 L522.34 491.30 L524.66 491.30 L526.99 491.29 L529.31 491.29 L531.64 491.29 L533.96 491.29 L536.28 491.28 L538.61 491.28 L540.93 491.28 L543.25 491.27 L545.58 491.27 L547.90 491.27 L550.23 491.26 L552.55 491.26 L554.87 491.26 L557.20 491.25 L559.52 491.25 L561.84 491.25 L564.17 491.24 L566.49 491.24 L568.82 491.23 L571.14 491.23 L573.46 491.23 L575.79 491.22 L578.11 491.22 L580.44 491.21 L582.76 491.21 L585.08 491.20 L587.41 491.20 L589.73 491.19 L592.05 491.19 L594.38 491.18 L596.70 491.18 L599.03 491.17 L601.35 491.17 L603.67 491.16 L606.00 491.16 L608.32 491.15 L610.64 491.15 L612.97 491.14 L615.29 491.14 L617.62 491.13 L619.94 491.12 L622.26 491.12 L624.59 491.11 L626.91 491.10 L629.24 491.10 L631.56 491.09 L633.88 491.08 L636.21 491.07 L638.53 491.07 L640.85 491.06 L643.18 491.05 L645.50 491.04 L647.83 491.03 L650.15 491.02 L652.47 491.01 L654.80 491.00 L657.12 490.99 L659.44 490.98 L661.77 490.97 L664.09 490.96 L666.42 490.95 L668.74 490.94 L671.06 490.93 L673.39 490.92 L675.71 490.90 L678.03 490.89 L680.36 490.88 L682.68 490.86 L685.01 490.85 L687.33 490.83 L689.65 490.82 L691.98 490.80 L694.30 490.78 L696.63 490.77 L698.95 490.75 L701.27 490.73 L703.60 490.71 L705.92 490.69 L708.24 490.67 L710.57 490.64 L712.89 490.62 L715.22 490.60 L717.54 490.57 L719.86 490.54 L722.19 490.51 L724.51 490.48 L726.83 490.45 L729.16 490.42 L731.48 490.38 L733.81 490.34 L736.13 490.30 L738.45 490.26 L740.78 490.21 L743.10 490.17 L745.42 490.11 L747.75 490.06 L750.07 490.00 L752.40 489.93 L754.72 489.86 L757.04 489.79 L759.37 489.71 L761.69 489.62 L764.02 489.52 L766.34 489.41 L768.66 489.29 L770.99 489.16 L773.31 489.01 L775.63 488.85 L777.96 488.66 L780.28 488.44 L782.61 488.19 L784.93 487.90 L787.25 487.56 L789.58 487.15 L791.90 486.65 L794.22 486.02 L796.55 485.21 L798.87 484.13 L801.20 482.62 L803.52 480.36 L805.84 476.60 L808.17 469.08 L810.49 446.61 L810.51 446.31 L810.52 446.01 L810.54 445.70 L810.55 445.38 L810.57 445.07 L810.58 444.74 L810.60 444.42 L810.62 444.09 L810.63 443.75 L810.65 443.41 L810.66 443.07 L810.68 442.72 L810.69 442.36 L810.71 442.00 L810.72 441.63 L810.74 441.26 L810.75 440.89 L810.77 440.50 L810.79 440.12 L810.80 439.72 L810.82 439.32 L810.83 438.92 L810.85 438.50 L810.86 438.08 L810.88 437.66 L810.89 437.23 L810.91 436.79 L810.92 436.34 L810.94 435.88 L810.96 435.42 L810.97 434.95 L810.99 434.48 L811.00 433.99 L811.02 433.50 L811.03 432.99 L811.05 432.48 L811.06 431.96 L811.08 431.43 L811.10 430.90 L811.11 430.35 L811.13 429.79 L811.14 429.22 L811.16 428.64 L811.17 428.05 L811.19 427.45 L811.20 426.84 L811.22 426.21 L811.23 425.58 L811.25 424.93 L811.27 424.27 L811.28 423.59 L811.30 422.90 L811.31 422.20 L811.33 421.48 L811.34 420.75 L811.36 420.00 L811.37 419.24 L811.39 418.46 L811.41 417.66 L811.42 416.84 L811.44 416.01 L811.45 415.16 L811.47 414.29 L811.48 413.40 L811.50 412.49 L811.51 411.55 L811.53 410.60 L811.54 409.62 L811.56 408.61 L811.58 407.59 L811.59 406.53 L811.61 405.45 L811.62 404.35 L811.64 403.21 L811.65 402.04 L811.67 400.85 L811.68 399.62 L811.70 398.35 L811.72 397.05 L811.73 395.72 L811.75 394.34 L811.76 392.93 L811.78 391.47 L811.79 389.97 L811.81 388.43 L811.82 386.84 L811.84 385.19 L811.85 383.50 L811.87 381.75 L811.89 379.94 L811.90 378.08 L811.92 376.15 L811.93 374.15 L811.95 372.08 L811.96 369.94 L811.98 367.72 L811.99 365.42 L812.01 363.03 L812.02 360.54 L812.04 357.97 L812.06 355.28 L812.07 352.49 L812.09 349.58 L812.10 346.55 L812.12 343.38 L812.13 340.07 L812.15 336.62 L812.16 333.00 L812.18 329.20 L812.20 325.22 L812.21 321.05 L812.23 316.65 L812.24 312.03 L812.26 307.15 L812.27 302.00 L812.29 296.56 L812.30 290.79 L812.32 284.68 L812.33 278.17 L812.35 271.25 L812.37 263.86 L812.38 255.97 L812.40 247.50 L812.41 238.40 L812.43 228.60 L812.44 218.01 L812.46 206.53 L812.47 194.04 L812.49 180.42 L812.51 165.48 L812.52 149.04 L812.54 130.85 L812.55 110.63 L812.57 88.00 L812.58 62.51 L812.60 33.60 L812.61 0.50 L812.63 -37.76 L812.64 -82.47 L812.66 -82.75" stroke="#ff8080"/>
</g>
<g stroke="#000"><line x1="69.20" y1="490.20" x2="69.20" y2="485.10" stroke-width="4.05"/><line x1="69.20" y1="14.45" x2="69.20" y2="19.55" stroke-width="4.05"/><line x1="92.87" y1="490.20" x2="92.87" y2="487.70" stroke-width="3.90"/><line x1="92.87" y1="14.45" x2="92.87" y2="16.95" stroke-width="3.90"/><line x1="116.54" y1="490.20" x2="116.54" y2="487.70" stroke-width="3.90"/><line x1="116.54" y1="14.45" x2="116.54" y2="16.95" stroke-width="3.90"/><line x1="140.21" y1="490.20" x2="140.21" y2="487.70" stroke-width="3.90"/><line x1="140.21" y1="14.45" x2="140.21" y2="16.95" stroke-width="3.90"/><line x1="163.88" y1="490.20" x2="163.88" y2="487.70" stroke-width="3.90"/><line x1="163.88" y1="14.45" x2="163.88" y2="16.95" stroke-width="3.90"/><line x1="187.55" y1="490.20" x2="187.55" y2="485.10" stroke-width="4.05"/><line x1="187.55" y1="14.45" x2="187.55" y2="19.55" stroke-width="4.05"/><line x1="211.22" y1="490.20" x2="211.22" y2="487.70" stroke-width="3.90"/><line x1="211.22" y1="14.45" x2="211.22" y2="16.95" stroke-width="3.90"/><line x1="234.89" y1="490.20" x2="234.89" y2="487.70" stroke-width="3.90"/><line x1="234.89" y1="14.45" x2="234.89" y2="16.95" stroke-width="3.90"/><line x1="258.56" y1="490.20" x2="258.56" y2="487.70" stroke-width="3.90"/><line x1="258.56" y1="14.45" x2="258.56" y2="16.95" stroke-width="3.90"/><line x1="282.23" y1="490.20" x2="282.23" y2="487.70" stroke-width="3.90"/><line x1="282.23" y1="14.45" x2="282.23" y2="16.95" stroke-width="3.90"/><line x1="305.90" y1="490.20" x2="305.90" y2="485.10" stroke-width="4.05"/><line x1="305.90" y1="14.45" x2="305.90" y2="19.55" stroke-width="4.05"/><line x1="329.57" y1="490.20" x2="329.57" y2="487.70" stroke-width="3.90"/><line x1="329.57" y1="14.45" x2="329.57" y2="16.95" stroke-width="3.90"/><line x1="353.24" y1="490.20" x2="353.24" y2="487.70" stroke-width="3.90"/><line x1="353.24" y1="14.45" x2="353.24" y2="16.95" stroke-width="3.90"/><line x1="376.91" y1="490.20" x2="376.91" y2="487.70" stroke-width="3.90"/><line x1="376.91" y1="14.45" x2="376.91" y2="16.95" stroke-width="3.90"/><line x1="400.58" y1="490.20" x2="400.58" y2="487.70" stroke-width="3.90"/><line x1="400.58" y1="14.45" x2="400.58" y2="16.95" stroke-width="3.90"/><line x1="424.25" y1="490.20" x2="424.25" y2="485.10" stroke-width="4.05"/><line x1="424.25" y1="14.45" x2="424.25" y2="19.55" stroke-width="4.05"/><line x1="447.92" y1="490.20" x2="447.92" y2="487.70" stroke-width="3.90"/><line x1="447.92" y1="14.45" x2="447.92" y2="16.95" stroke-width="3.90"/><line x1="471.59" y1="490.20" x2="471.59" y2="487.70" stroke-width="3.90"/><line x1="471.59" y1="14.45" x2="471.59" y2="16.95" stroke-width="3.90"/><line x1="495.26" y1="490.20" x2="495.26" y2="487.70" stroke-width="3.90"/><line x1="495.26" y1="14.45" x2="495.26" y2="16.95" stroke-width="3.90"/><line x1="518.93" y1="490.20" x2="518.93" y2="487.70" stroke-width="3.90"/><line x1="518.93" y1="14.45" x2="518.93" y2="16.95" stroke-width="3.90"/><line x1="542.60" y1="490.20" x2="542.60" y2="485.10" stroke-width="4.05"/><line x1="542.60" y1="14.45" x2="542.60" y2="19.55" stroke-width="4.05"/><line x1="566.27" y1="490.20" x2="566.27" y2="487.70" stroke-width="3.90"/><line x1="566.27" y1="14.45" x2="566.27" y2="16.95" stroke-width="3.90"/><line x1="589.94" y1="490.20" x2="589.94" y2="487.70" stroke-width="3.90"/><line x1="589.94" y1="14.45" x2="589.94" y2="16.95" stroke-width="3.90"/><line x1="613.61" y1="490.20" x2="613.61" y2="487.70" stroke-width="3.90"/><line x1="613.61" y1="14.45" x2="613.61" y2="16.95" stroke-width="3.90"/><line x1="637.28" y1="490.20" x2="637.28" y2="487.70" stroke-width="3.90"/><line x1="637.28" y1="14.45" x2="637.28" y2="16.95" stroke-width="3.90"/><line x1="660.95" y1="490.20" x2="660.95" y2="485.10" stroke-width="4.05"/><line x1="660.95" y1="14.45" x2="660.95" y2="19.55" stroke-width="4.05"/><line x1="684.62" y1="490.20" x2="684.62" y2="487.70" stroke-width="3.90"/><line x1="684.62" y1="14.45" x2="684.62" y2="16.95" stroke-width="3.90"/><line x1="708.29" y1="490.20" x2="708.29" y2="487.70" stroke-width="3.90"/><line x1="708.29" y1="14.45" x2="708.29" y2="16.95" stroke-width="3.90"/><line x1="731.96" y1="490.20" x2="731.96" y2="487.70" stroke-width="3.90"/><line x1="731.96" y1="14.45" x2="731.96" y2="16.95" stroke-width="3.90"/><line x1="755.63" y1="490.20" x2="755.63" y2="487.70" stroke-width="3.90"/><line x1="755.63" y1="14.45" x2="755.63" y2="16.95" stroke-width="3.90"/><line x1="779.30" y1="490.20" x2="779.30" y2="485.10" stroke-width="4.05"/><line x1="779.30" y1="14.45" x2="779.30" y2="19.55" stroke-width="4.05"/><line x1="802.97" y1="490.20" x2="802.97" y2="487.70" stroke-width="3.90"/><line x1="802.97" y1="14.45" x2="802.97" y2="16.95" stroke-width="3.90"/><line x1="826.64" y1="490.20" x2="826.64" y2="487.70" stroke-width="3.90"/><line x1="826.64" y1="14.45" x2="826.64" y2="16.95" stroke-width="3.90"/><line x1="55.59" y1="491.75" x2="60.69" y2="491.75" stroke-width="4.05"/><line x1="826.40" y1="491.75" x2="821.30" y2="491.75" stroke-width="4.05"/><line x1="55.59" y1="472.60" x2="58.09" y2="472.60" stroke-width="3.90"/><line x1="826.40" y1="472.60" x2="823.90" y2="472.60" stroke-width="3.90"/><line x1="55.59" y1="453.45" x2="58.09" y2="453.45" stroke-width="3.90"/><line x1="826.40" y1="453.45" x2="823.90" y2="453.45" stroke-width="3.90"/><line x1="55.59" y1="434.30" x2="58.09" y2="434.30" stroke-width="3.90"/><line x1="826.40" y1="434.30" x2="823.90" y2="434.30" stroke-width="3.90"/><line x1="55.59" y1="415.15" x2="58.09" y2="415.15" stroke-width="3.90"/><line x1="826.40" y1="415.15" x2="823.90" y2="415.15" stroke-width="3.90"/><line x1="55.59" y1="396.00" x2="60.69" y2="396.00" stroke-width="4.05"/><line x1="826.40" y1="396.00" x2="821.30" y2="396.00" stroke-width="4.05"/><line x1="55.59" y1="376.85" x2="58.09" y2="376.85" stroke-width="3.90"/><line x1="826.40" y1="376.85" x2="823.90" y2="376.85" stroke-width="3.90"/><line x1="55.59" y1="357.70" x2="58.09" y2="357.70" stroke-width="3.90"/><line x1="826.40" y1="357.70" x2="823.90" y2="357.70" stroke-width="3.90"/><line x1="55.59" y1="338.55" x2="58.09" y2="338.55" stroke-width="3.90"/><line x1="826.40" y1="338.55" x2="823.90" y2="338.55" stroke-width="3.90"/><line x1="55.59" y1="319.40" x2="58.09" y2="319.40" stroke-width="3.90"/><line x1="826.40" y1="319.40" x2="823.90" y2="319.40" stroke-width="3.90"/><line x1="55.59" y1="300.25" x2="60.69" y2="300.25" stroke-width="4.05"/><line x1="826.40" y1="300.25" x2="821.30" y2="300.25" stroke-width="4.05"/><line x1="55.59" y1="281.10" x2="58.09" y2="281.10" stroke-width="3.90"/><line x1="826.40" y1="281.10" x2="823.90" y2="281.10" stroke-width="3.90"/><line x1="55.59" y1="261.95" x2="58.09" y2="261.95" stroke-width="3.90"/><line x1="826.40" y1="261.95" x2="823.90" y2="261.95" stroke-width="3.90"/><line x1="55.59" y1="242.80" x2="58.09" y2="242.80" stroke-width="3.90"/><line x1="826.40" y1="242.80" x2="823.90" y2="242.80" stroke-width="3.90"/><line x1="55.59" y1="223.65" x2="58.09" y2="223.65" stroke-width="3.90"/><line x1="826.40" y1="223.65" x2="823.90" y2="223.65" stroke-width="3.90"/><line x1="55.59" y1="204.50" x2="60.69" y2="204.50" stroke-width="4.05"/><line x1="826.40" y1="204.50" x2="821.30" y2="204.50" stroke-width="4.05"/><line x1="55.59" y1="185.35" x2="58.09" y2="185.35" stroke-width="3.90"/><line x1="826.40" y1="185.35" x2="823.90" y2="185.35" stroke-width="3.90"/><line x1="55.59" y1="166.20" x2="58.09" y2="166.20" stroke-width="3.90"/><line x1="826.40" y1="166.20" x2="823.90" y2="166.20" stroke-width="3.90"/><line x1="55.59" y1="147.05" x2="58.09" y2="147.05" stroke-width="3.90"/><line x1="826.40" y1="147.05" x2="823.90" y2="147.05" stroke-width="3.90"/><line x1="55.59" y1="127.90" x2="58.09" y2="127.90" stroke-width="3.90"/><line x1="826.40" y1="127.90" x2="823.90" y2="127.90" stroke-width="3.90"/><line x1="55.59" y1="108.75" x2="60.69" y2="108.75" stroke-width="4.05"/><line x1="826.40" y1="108.75" x2="821.30" y2="108.75" stroke-width="4.05"/><line x1="55.59" y1="89.60" x2="58.09" y2="89.60" stroke-width="3.90"/><line x1="826.40" y1="89.60" x2="823.90" y2="89.60" stroke-width="3.90"/><line x1="55.59" y1="70.45" x2="58.09" y2="70.45" stroke-width="3.90"/><line x1="826.40" y1="70.45" x2="823.90" y2="70.45" stroke-width="3.90"/><line x1="55.59" y1="51.30" x2="58.09" y2="51.30" stroke-width="3.90"/><line x1="826.40" y1="51.30" x2="823.90" y2="51.30" stroke-width="3.90"/><line x1="55.59" y1="32.15" x2="58.09" y2="32.15" stroke-width="3.90"/><line x1="826.40" y1="32.15" x2="823.90" y2="32.15" stroke-width="3.90"/><line x1="55.59" y1="13.00" x2="60.69" y2="13.00" stroke-width="4.05"/><line x1="826.40" y1="13.00" x2="821.30" y2="13.00" stroke-width="4.05"/></g>
<rect x="54.04" y="12.90" width="773.91" height="478.85" fill="none" stroke="#000" stroke-width="4.10"/>
<g font-family="'Liberation Sans', sans-serif" fill="#000"><text x="62.67" y="518.00" font-size="23.50">0</text><path transform="translate(181.02 518.00) scale(0.01147 -0.01147)" d="M763 0H583V1147Q518 1085 412.5 1023T223 930V1104Q375 1175.5 489 1277.5T650 1466H763Z"/><text x="299.37" y="518.00" font-size="23.50">2</text><text x="417.72" y="518.00" font-size="23.50">3</text><text x="536.07" y="518.00" font-size="23.50">4</text><text x="654.42" y="518.00" font-size="23.50">5</text><text x="772.77" y="518.00" font-size="23.50">6</text><text x="35.83" y="500.05" font-size="23.50">0</text><path transform="translate(35.83 404.30) scale(0.01147 -0.01147)" d="M763 0H583V1147Q518 1085 412.5 1023T223 930V1104Q375 1175.5 489 1277.5T650 1466H763Z"/><text x="35.83" y="308.55" font-size="23.50">2</text><text x="35.83" y="212.80" font-size="23.50">3</text><text x="35.83" y="117.05" font-size="23.50">4</text><text x="35.83" y="21.30" font-size="23.50">5</text><text x="442.2" y="553.9" text-anchor="middle" font-size="23.50">E</text><text transform="translate(20.9 251.8) rotate(-90)" text-anchor="middle" font-size="23"><tspan font-style="italic">R</tspan>(E)</text></g>
<rect x="359.30" y="83.20" width="318.70" height="242.60" rx="7" ry="7" fill="#fff" fill-opacity="0.8" stroke="#000" stroke-width="1.75"/>
<g font-family="'Liberation Sans', sans-serif" fill="#000"><rect x="375.60" y="112.05" width="18.70" height="18.9" fill="#0000ff" stroke="#0000a8" stroke-width="1.5"/><rect x="409.00" y="122.05" width="33.00" height="1.6" fill="#000"/><g stroke="#000" stroke-width="0.25"><text x="410.00" y="112.90" font-size="16.00" font-style="italic">J</text><text x="418.60" y="117.50" font-size="14.80">imp</text><text x="426.60" y="143.10" font-size="16.00" font-style="italic" text-anchor="middle">J</text></g><text x="446.50" y="130.35" font-size="23.50">=</text><text x="465.86" y="129.95" font-size="23.50">0.53</text><rect x="375.60" y="166.95" width="18.70" height="18.9" fill="#ff8000" stroke="#a85400" stroke-width="1.5"/><rect x="409.00" y="176.95" width="33.00" height="1.6" fill="#000"/><g stroke="#000" stroke-width="0.25"><text x="410.00" y="167.80" font-size="16.00" font-style="italic">J</text><text x="418.60" y="172.40" font-size="14.80">imp</text><text x="426.60" y="198.00" font-size="16.00" font-style="italic" text-anchor="middle">J</text></g><text x="446.50" y="185.25" font-size="23.50">=</text><text x="465.86" y="184.85" font-size="23.50">0.6</text><rect x="375.60" y="221.95" width="18.70" height="18.9" fill="#00ff00" stroke="#00a800" stroke-width="1.5"/><rect x="409.00" y="231.95" width="33.00" height="1.6" fill="#000"/><g stroke="#000" stroke-width="0.25"><text x="410.00" y="222.80" font-size="16.00" font-style="italic">J</text><text x="418.60" y="227.40" font-size="14.80">imp</text><text x="426.60" y="253.00" font-size="16.00" font-style="italic" text-anchor="middle">J</text></g><text x="446.50" y="240.25" font-size="23.50">=</text><text x="465.86" y="239.85" font-size="23.50">0.7</text><rect x="375.60" y="276.85" width="18.70" height="18.9" fill="#ff0000" stroke="#a80000" stroke-width="1.5"/><rect x="409.00" y="286.85" width="33.00" height="1.6" fill="#000"/><g stroke="#000" stroke-width="0.25"><text x="410.00" y="277.70" font-size="16.00" font-style="italic">J</text><text x="418.60" y="282.30" font-size="14.80">imp</text><text x="426.60" y="307.90" font-size="16.00" font-style="italic" text-anchor="middle">J</text></g><text x="446.50" y="295.15" font-size="23.50">=</text><text x="465.86" y="294.75" font-size="23.50">0.9</text><rect x="524.90" y="112.05" width="18.20" height="18.9" fill="#996633" stroke="#644321" stroke-width="1.5"/><rect x="558.20" y="122.05" width="33.00" height="1.6" fill="#000"/><g stroke="#000" stroke-width="0.25"><text x="559.20" y="112.90" font-size="16.00" font-style="italic">J</text><text x="567.80" y="117.50" font-size="14.80">imp</text><text x="575.80" y="143.10" font-size="16.00" font-style="italic" text-anchor="middle">J</text></g><text x="595.70" y="130.35" font-size="23.50">=</text><path transform="translate(615.36 129.95) scale(0.01147 -0.01147)" d="M763 0H583V1147Q518 1085 412.5 1023T223 930V1104Q375 1175.5 489 1277.5T650 1466H763Z"/><rect x="524.90" y="166.95" width="18.20" height="18.9" fill="#ff00ff" stroke="#a800a8" stroke-width="1.5"/><rect x="558.20" y="176.95" width="33.00" height="1.6" fill="#000"/><g stroke="#000" stroke-width="0.25"><text x="559.20" y="167.80" font-size="16.00" font-style="italic">J</text><text x="567.80" y="172.40" font-size="14.80">imp</text><text x="575.80" y="198.00" font-size="16.00" font-style="italic" text-anchor="middle">J</text></g><text x="595.70" y="185.25" font-size="23.50">=</text><path transform="translate(615.36 184.85) scale(0.01147 -0.01147)" d="M763 0H583V1147Q518 1085 412.5 1023T223 930V1104Q375 1175.5 489 1277.5T650 1466H763Z"/><text x="628.42" y="184.85" font-size="23.50">.</text><path transform="translate(634.96 184.85) scale(0.01147 -0.01147)" d="M763 0H583V1147Q518 1085 412.5 1023T223 930V1104Q375 1175.5 489 1277.5T650 1466H763Z"/><text x="648.02" y="184.85" font-size="23.50">5</text><rect x="524.90" y="221.95" width="18.20" height="18.9" fill="#00ffff" stroke="#00a8a8" stroke-width="1.5"/><rect x="558.20" y="231.95" width="33.00" height="1.6" fill="#000"/><g stroke="#000" stroke-width="0.25"><text x="559.20" y="222.80" font-size="16.00" font-style="italic">J</text><text x="567.80" y="227.40" font-size="14.80">imp</text><text x="575.80" y="253.00" font-size="16.00" font-style="italic" text-anchor="middle">J</text></g><text x="595.70" y="240.25" font-size="23.50">=</text><path transform="translate(615.36 239.85) scale(0.01147 -0.01147)" d="M763 0H583V1147Q518 1085 412.5 1023T223 930V1104Q375 1175.5 489 1277.5T650 1466H763Z"/><text x="628.42" y="239.85" font-size="23.50">.25</text><rect x="524.90" y="276.85" width="18.20" height="18.9" fill="#ff8080" stroke="#a85454" stroke-width="1.5"/><rect x="558.20" y="286.85" width="33.00" height="1.6" fill="#000"/><g stroke="#000" stroke-width="0.25"><text x="559.20" y="277.70" font-size="16.00" font-style="italic">J</text><text x="567.80" y="282.30" font-size="14.80">imp</text><text x="575.80" y="307.90" font-size="16.00" font-style="italic" text-anchor="middle">J</text></g><text x="595.70" y="295.15" font-size="23.50">=</text><path transform="translate(615.36 294.75) scale(0.01147 -0.01147)" d="M763 0H583V1147Q518 1085 412.5 1023T223 930V1104Q375 1175.5 489 1277.5T650 1466H763Z"/><text x="628.42" y="294.75" font-size="23.50">.33</text></g>
</svg>
</body></html>
